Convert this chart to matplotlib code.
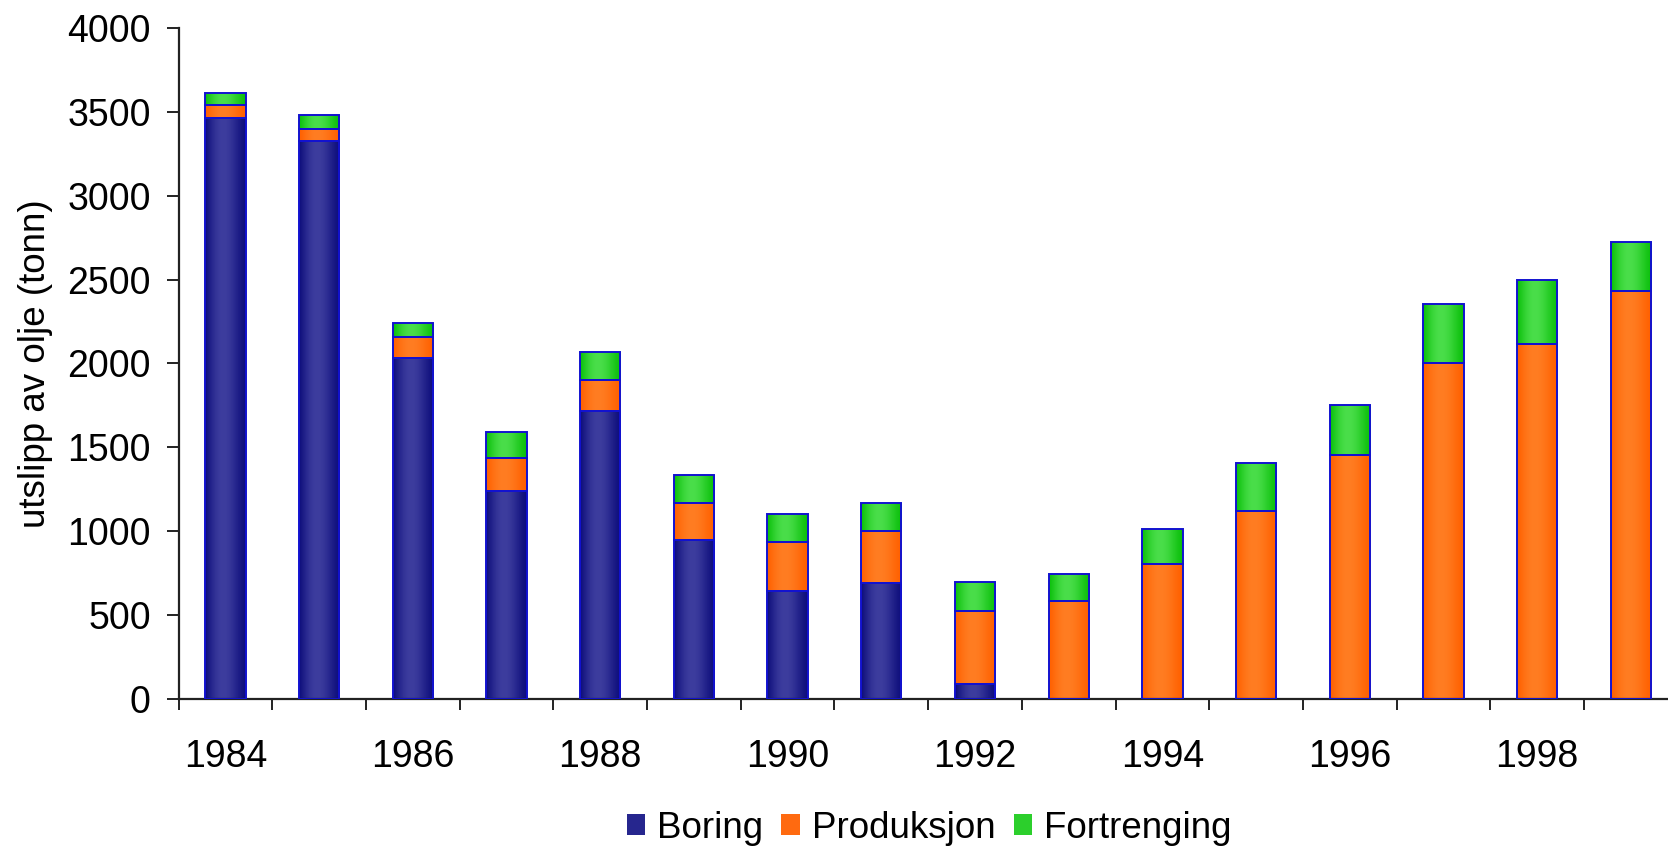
import numpy as np
import matplotlib
matplotlib.use("Agg")
import matplotlib.pyplot as plt
from matplotlib.patches import Patch
from matplotlib.colors import to_rgb

# data (tonn)
years = ["1984", "1985", "1986", "1987", "1988", "1989", "1990", "1991",
         "1992", "1993", "1994", "1995", "1996", "1997", "1998", "1999"]
boring = [3464, 3329, 2032, 1237, 1715, 949, 640, 690, 88, 0, 0, 0, 0, 0, 0, 0]
produksjon = [76, 68, 124, 197, 189, 220, 297, 313, 438, 584, 804, 1118, 1454, 2000, 2116, 2431]
fortrenging = [76, 87, 85, 155, 165, 165, 166, 166, 172, 162, 211, 290, 297, 355, 384, 296]
series_names = ["Boring", "Produksjon", "Fortrenging"]

plt.rcParams['font.family'] = ['Liberation Sans', 'DejaVu Sans']

# (dark, light, legend) colours for each series
colours = {
    "Boring": ("#0e0e7c", "#3d3d9e", "#26268e"),
    "Produksjon": ("#ff6000", "#ff7d22", "#ff6a10"),
    "Fortrenging": ("#0cc00c", "#4ade4a", "#2ccf2c"),
}
edge = "#1212d0"


def shade(ax, patch, dark, light):
    # horizontal "cylinder" gradient clipped to the bar
    t = np.linspace(0, 1, 64)
    p = np.clip(np.sin(np.pi * t ** 0.85), 0, 1) ** 1.4
    d = np.array(to_rgb(dark))
    l = np.array(to_rgb(light))
    img = (d[None, :] + (l - d)[None, :] * p[:, None])[None, :, :]
    x0, y0 = patch.get_x(), patch.get_y()
    w, h = patch.get_width(), patch.get_height()
    im = ax.imshow(img, extent=(x0, x0 + w, y0, y0 + h), aspect='auto',
                   interpolation='bilinear', zorder=2)
    im.set_clip_path(patch)
    patch.set_facecolor('none')


fig = plt.figure(figsize=(16.68, 8.51), dpi=100)
ax = fig.add_axes([0.1071, 0.179, 0.8987, 0.7878])

x = np.arange(len(years))
width = 0.43
bottom = np.zeros(len(years))
for name, vals in zip(series_names, [boring, produksjon, fortrenging]):
    vals = np.array(vals, dtype=float)
    bars = ax.bar(x, vals, width, bottom=bottom, edgecolor=edge,
                  linewidth=1.4, zorder=3)
    dark, light, _ = colours[name]
    for b, v in zip(bars, vals):
        if v <= 0:
            b.set_visible(False)
            continue
        shade(ax, b, dark, light)
    bottom += vals

ax.set_xlim(-0.5, len(years) - 0.5)
ax.set_ylim(0, 4000)
ax.set_yticks(np.arange(0, 4001, 500))

# ticks between categories, labels every second year
ax.set_xticks(np.arange(-0.5, len(years), 1.0))
ax.set_xticklabels([])
ax.set_xticks(x[::2], minor=True)
ax.set_xticklabels(years[::2], minor=True)
ax.tick_params(axis='x', which='major', direction='out', length=8, width=1.4, color='#222222')
ax.tick_params(axis='x', which='minor', length=0, pad=29, labelsize=27)
ax.tick_params(axis='y', direction='out', length=9, width=1.4, color='#222222',
               pad=11, labelsize=27)

for s in ['top', 'right']:
    ax.spines[s].set_visible(False)
for s in ['left', 'bottom']:
    ax.spines[s].set_color('#222222')
    ax.spines[s].set_linewidth(1.6)

ax.set_ylabel("utslipp av olje (tonn)", fontsize=26.5, labelpad=10)

handles = [Patch(facecolor=colours[n][2], edgecolor='none') for n in series_names]
fig.legend(handles, series_names, loc='center', bbox_to_anchor=(0.557, 0.027),
           ncol=3, frameon=False, fontsize=26.5, handlelength=0.5,
           handleheight=0.5, handletextpad=0.32, columnspacing=0.5)

fig.savefig("out.png", dpi=100)
